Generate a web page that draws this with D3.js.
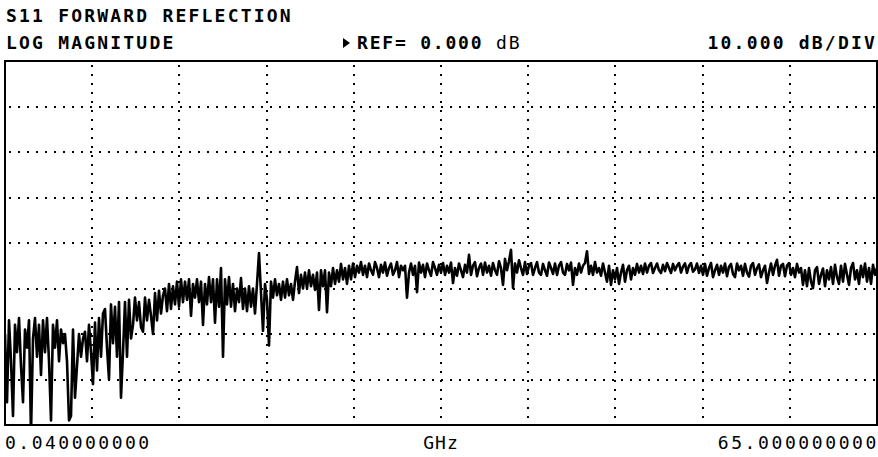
<!DOCTYPE html>
<html>
<head>
<meta charset="utf-8">
<script src="https://cdn.jsdelivr.net/npm/d3@7"></script>
<style>
  html, body { margin: 0; padding: 0; background: #fff; }
  svg { display: block; }
  .hdr { font-family: "DejaVu Sans Mono", monospace; font-size: 18px; font-weight: bold; fill: #000; }
  .lbl { font-family: "DejaVu Sans Mono", monospace; font-size: 18px; fill: #000; }
</style>
</head>
<body>
<div id="chart"></div>
<script>
// sweep
const startGHz = 0.04;
const stopGHz = 65;
const refDb = 0;
const dbPerDiv = 10;
const divsY = 8;
const divsX = 10;

const titleLines = ["S11 FORWARD REFLECTION", "LOG MAGNITUDE"];
const refLabel = "REF= 0.000";
const refUnit = "dB";
const scaleLabel = "10.000 dB/DIV";
const axisLabels = ["0.040000000", "GHz", "65.000000000"];

// trace, dB, equally spaced points across the sweep
const traceDb = [
  -20, -35, -17, -26, -38, -18, -24, -16.5, -27, -35,
  -19, -23, -17, -42, -21, -16.5, -25, -18, -29, -17,
  -24, -16.5, -26, -39, -18, -23, -17, -26, -19, -22,
  -20, -26, -39, -38, -19, -34, -27, -20, -25, -21,
  -19.5, -26, -18, -24, -31, -17.5, -28, -16.5, -25, -15.5,
  -14.5, -23, -30, -13.5, -22, -14, -25, -13, -34, -24,
  -13, -25, -12.5, -21, -18, -12, -17, -13, -18.5, -19.5,
  -12, -17, -12.5, -16, -20, -11, -17, -10.5, -15.5, -11.5,
  -10, -15, -9, -14.5, -9.5, -13.5, -8.5, -14, -8, -13,
  -8.5, -12.5, -8, -16, -9, -12, -8, -13, -8.5, -18,
  -9, -13.5, -7.5, -13, -8, -17.5, -8, -14, -5.5, -25,
  -8, -13.5, -7.5, -14, -9, -15, -10, -13, -7.7, -14.5,
  -10, -15, -9.5, -14, -10, -15.5, -9, -2.2, -11, -19.3,
  -9, -12.5, -22.5, -8.5, -12, -8, -11.5, -9, -12.5, -8.5,
  -12, -8, -11.5, -9, -12.5, -8.5, -5.3, -11, -7, -10,
  -6.5, -10, -6, -9.5, -7, -10.3, -6.5, -14.7, -6, -9.5,
  -6, -15.2, -6.5, -9.5, -5.5, -9, -6, -8.5, -4.6, -8,
  -5.5, -9, -5, -8, -4.5, -7.5, -5, -6.5, -4.2, -7,
  -5, -7.5, -4.5, -6, -7, -4.2, -5.5, -7.5, -4.8, -6.5,
  -4.3, -7.2, -5.5, -4.5, -7, -6, -4.2, -7.5, -5, -6,
  -5, -12, -6.5, -4.5, -7, -5, -10.8, -4.3, -6.5, -4.8,
  -7.5, -4.5, -6, -7.2, -4.2, -5.5, -7, -4.8, -6.5, -4.4,
  -7, -5, -6.5, -4.3, -8.8, -5.5, -7.2, -4.5, -6, -7.5,
  -4.8, -6.5, -2.6, -7, -5, -4.2, -7.3, -5.5, -4.5, -7,
  -4.3, -6.5, -5, -7.2, -4.4, -6, -7, -4, -5.5, -9.2,
  -3.5, -6, -4, -1.5, -9.9, -4.5, -6.5, -3.8, -5.5, -7,
  -4.2, -6.8, -5, -4.4, -7, -5.5, -4.2, -6.5, -7, -4.6,
  -6, -7.2, -4.3, -5.5, -6.8, -4.5, -7, -5, -4.2, -6.5,
  -7, -4.6, -6, -4.3, -9.2, -5.5, -7, -4.5, -6.5, -5,
  -4.4, -1.8, -6.8, -5, -7, -4.2, -6.5, -5.5, -7.2, -4.5,
  -6.5, -8.5, -5, -9.2, -6, -8, -5.5, -9, -6.5, -4.8,
  -8.5, -6, -5, -8, -5.5, -7, -4.6, -6.5, -5, -6.8,
  -4.5, -6.5, -5, -4.4, -6.6, -5.5, -4.5, -6, -6.6, -4.8,
  -6.2, -4.4, -5.5, -6.6, -4.6, -6, -5, -4.4, -6.5, -5.2,
  -4.5, -6.6, -5, -4.4, -6.3, -5.8, -4.5, -6.6, -5, -7,
  -4.6, -7.2, -5.5, -4.4, -7.5, -6, -4.8, -7, -5, -6.5,
  -4.5, -7.3, -5.2, -4.6, -6.8, -7.5, -4.5, -6, -5, -7.2,
  -4.6, -6.5, -7.4, -5, -4.4, -7, -5.5, -4.7, -7.5, -6,
  -5, -8.8, -6.5, -4.5, -7, -5, -3.7, -7.2, -5, -4.6,
  -7.3, -5, -4.4, -7, -5.5, -7.5, -4.6, -6.5, -5.5, -9.2,
  -6, -9.5, -5.5, -8.5, -9.9, -6, -5.3, -9, -7, -5.6,
  -9.5, -6, -8, -5.3, -9, -4.8, -7.5, -9, -5, -8.5,
  -4.6, -7, -9.2, -5.5, -4.4, -8, -6, -9, -5, -7.5,
  -4.5, -8.5, -5.5, -9, -4.8, -7, -5.5
];

const width = 878;
const height = 457;
const plot = { left: 5, right: 877, top: 61, bottom: 425 };

const svg = d3
  .select("#chart")
  .append("svg")
  .attr("width", width)
  .attr("height", height);

const x = d3.scaleLinear().domain([startGHz, stopGHz]).range([plot.left, plot.right]);
const yTop = refDb + (divsY / 2) * dbPerDiv;
const yBottom = refDb - (divsY / 2) * dbPerDiv;
const y = d3.scaleLinear().domain([yBottom, yTop]).range([plot.bottom, plot.top]);

// graticule (dotted)
const xDivs = d3.range(1, divsX).map((k) => startGHz + (k * (stopGHz - startGHz)) / divsX);
const yDivs = d3.range(1, divsY).map((k) => yBottom + k * dbPerDiv);

const grid = svg.append("g").attr("class", "grid");
grid
  .selectAll(".vline")
  .data(xDivs)
  .enter()
  .append("line")
  .attr("x1", (d) => Math.round(x(d)))
  .attr("x2", (d) => Math.round(x(d)))
  .attr("y1", plot.top + 4)
  .attr("y2", plot.bottom)
  .style("stroke", "#000")
  .style("stroke-width", 2)
  .style("stroke-dasharray", "2,7");

grid
  .selectAll(".hline")
  .data(yDivs)
  .enter()
  .append("line")
  .attr("x1", plot.left + 4)
  .attr("x2", plot.right)
  .attr("y1", (d) => Math.round(y(d)))
  .attr("y2", (d) => Math.round(y(d)))
  .style("stroke", "#000")
  .style("stroke-width", 2)
  .style("stroke-dasharray", "2,7");

// trace, clipped to graticule
svg
  .append("clipPath")
  .attr("id", "plot-clip")
  .append("rect")
  .attr("x", plot.left)
  .attr("y", plot.top)
  .attr("width", plot.right - plot.left)
  .attr("height", plot.bottom - plot.top);

const step = (stopGHz - startGHz) / (traceDb.length - 1);
const line = d3
  .line()
  .x((d, i) => x(startGHz + i * step))
  .y((d) => y(d));

svg
  .append("path")
  .datum(traceDb)
  .attr("clip-path", "url(#plot-clip)")
  .attr("d", line)
  .style("fill", "none")
  .style("stroke", "#000")
  .style("stroke-width", 2.6)
  .style("stroke-linejoin", "round");

// frame
svg
  .append("rect")
  .attr("x", plot.left)
  .attr("y", plot.top)
  .attr("width", plot.right - plot.left)
  .attr("height", plot.bottom - plot.top)
  .style("fill", "none")
  .style("stroke", "#000")
  .style("stroke-width", 2);

// header texts
svg.append("text").attr("class", "hdr").attr("x", 6).attr("y", 22)
  .style("letter-spacing", "2.2px").text(titleLines[0]);
svg.append("text").attr("class", "hdr").attr("x", 6).attr("y", 49)
  .style("letter-spacing", "2.2px").text(titleLines[1]);

svg.append("path")
  .attr("d", "M343,38 L350,43 L343,48 Z")
  .style("fill", "#000");
svg.append("text").attr("class", "hdr").attr("x", 357).attr("y", 49)
  .style("letter-spacing", "1.8px").text(refLabel);
svg.append("text").attr("class", "lbl").attr("x", 496).attr("y", 49)
  .style("letter-spacing", "1.8px").text(refUnit);

svg.append("text").attr("class", "hdr").attr("x", 877).attr("y", 49)
  .attr("text-anchor", "end")
  .style("letter-spacing", "2.2px").text(scaleLabel);

// axis texts
svg.append("text").attr("class", "lbl").attr("x", 5).attr("y", 449)
  .style("letter-spacing", "2.5px").text(axisLabels[0]);
svg.append("text").attr("class", "lbl").attr("x", 441).attr("y", 449)
  .attr("text-anchor", "middle")
  .style("letter-spacing", "1px").text(axisLabels[1]);
svg.append("text").attr("class", "lbl").attr("x", 879).attr("y", 449)
  .attr("text-anchor", "end")
  .style("letter-spacing", "2.6px").text(axisLabels[2]);
</script>
</body>
</html>
